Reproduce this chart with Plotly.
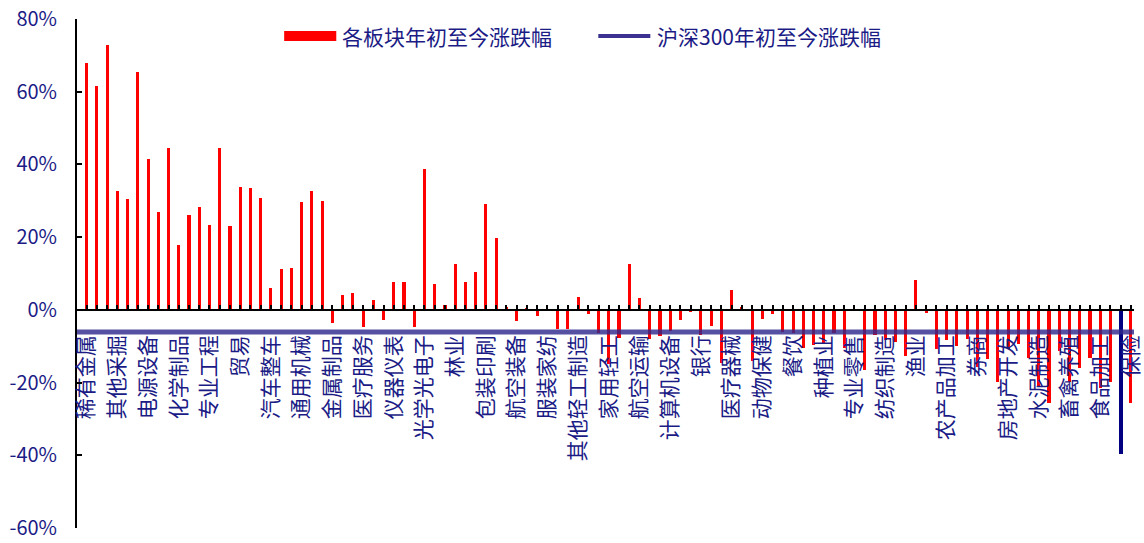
import numpy as np
import plotly.graph_objects as go

# Year-to-date return of each industry sector (%), in display order
sector_returns = [
    67.8, 61.5, 72.9, 32.6, 30.5, 65.4, 41.5, 27.0, 44.5, 17.9,
    26.1, 28.4, 23.3, 44.4, 23.1, 33.8, 33.4, 30.8, 5.9, 11.2,
    11.5, 29.6, 32.7, 30.0, -3.6, 4.0, 4.6, -4.7, 2.8, -2.7,
    7.8, 7.8, -4.8, 38.8, 7.1, 1.2, 12.5, 7.6, 10.4, 29.0,
    19.8, 0.8, -3.0, 0.3, -1.6, -0.3, -5.3, -5.3, 3.5, -1.1,
    -6.3, -15.0, -7.7, 12.5, 3.4, -8.0, -7.3, -5.9, -2.7, -0.7,
    -7.0, -4.4, -14.7, 5.5, 0.9, -14.1, -2.5, -1.1, -6.2, -6.5,
    -10.5, -9.8, -9.1, -6.5, -10.5, -0.3, -16.6, -6.8, -8.2, -8.9,
    -12.7, 8.1, -0.9, -10.7, -8.2, -10.0, -8.0, -15.6, -13.6, -19.8,
    -10.9, -9.5, -13.2, -20.9, -25.7, -11.4, -19.8, -15.9, -13.2, -21.4,
    -19.8, -39.7, -25.5,
]

# Sector names shown on the axis (every third sector is labelled)
tick_labels = [
    "稀有金属", "其他采掘", "电源设备", "化学制品", "专业工程", "贸易",
    "汽车整车", "通用机械", "金属制品", "医疗服务", "仪器仪表", "光学光电子",
    "林业", "包装印刷", "航空装备", "服装家纺", "其他轻工制造", "家用轻工",
    "航空运输", "计算机设备", "银行", "医疗器械", "动物保健", "餐饮",
    "种植业", "专业零售", "纺织制造", "渔业", "农产品加工", "券商",
    "房地产开发", "水泥制造", "畜禽养殖", "食品加工", "保险",
]
label_step = 3

# CSI 300 year-to-date return (%)
hs300_return = -6.1

y_tick_values = [-60, -40, -20, 0, 20, 40, 60, 80]
y_tick_text = ["-60%", "-40%", "-20%", "0%", "20%", "40%", "60%", "80%"]

series_names = ["各板块年初至今涨跌幅", "沪深300年初至今涨跌幅"]

# ---- styling ----
FONT = "Noto Sans CJK SC"
NAVY_TEXT = "#1b1b86"
RED = "#ff0000"
HIGHLIGHT_COLOR = "#000080"
HIGHLIGHT_INDEX = 101
LINE_COLOR = "rgba(48,42,140,0.82)"

n = len(sector_returns)
x = np.arange(n)
bar_colors = [HIGHLIGHT_COLOR if i == HIGHLIGHT_INDEX else RED for i in range(n)]
bar_widths = [0.42 if i == HIGHLIGHT_INDEX else 0.3 for i in range(n)]

tick_text = []
for i in range(n):
    if i % label_step == 0 and i // label_step < len(tick_labels):
        tick_text.append(tick_labels[i // label_step])
    else:
        tick_text.append("")

fig = go.Figure()
fig.add_trace(go.Bar(
    x=x, y=sector_returns, width=bar_widths,
    marker=dict(color=bar_colors, line=dict(width=0)),
    name=series_names[0], showlegend=False,
))

y_min, y_max = -60, 80

fig.update_layout(
    width=1144, height=543,
    margin=dict(l=77, r=10, t=19, b=15, autoexpand=False),
    paper_bgcolor="white", plot_bgcolor="white",
    font=dict(family=FONT, color=NAVY_TEXT),
    showlegend=False,
    bargap=0,
    xaxis=dict(
        range=[-0.94, 102.3],
        anchor="free",
        position=(0 - y_min) / (y_max - y_min),
        tickmode="array", tickvals=list(x), ticktext=tick_text,
        tickangle=-90,
        ticks="inside", ticklen=4, tickwidth=2, tickcolor="black",
        showline=True, linecolor="black", linewidth=2,
        showgrid=False, zeroline=False,
        tickfont=dict(family=FONT, size=21, color=NAVY_TEXT),
        ticklabelstandoff=16,
        ticklabeloverflow="allow",
        automargin=False,
    ),
    yaxis=dict(
        range=[y_min, y_max],
        tickmode="array", tickvals=y_tick_values, ticktext=y_tick_text,
        ticks="inside", ticklen=5, tickwidth=2, tickcolor="black",
        showline=True, linecolor="black", linewidth=2,
        showgrid=False, zeroline=False,
        tickfont=dict(family=FONT, size=20, color=NAVY_TEXT),
        ticklabelstandoff=14,
        ticklabeloverflow="allow",
        automargin=False,
    ),
)

# CSI 300 reference line across the whole plot
fig.add_shape(
    type="line", xref="paper", x0=0, x1=1, yref="y",
    y0=hs300_return, y1=hs300_return,
    line=dict(color=LINE_COLOR, width=5), layer="above",
)

# Legend row at the top (positions in plot-area fractions)
legend_y = 0.9666
fig.add_shape(type="rect", xref="paper", yref="paper",
              x0=0.196, x1=0.2453, y0=0.957, y1=0.9765,
              fillcolor=RED, line=dict(width=0))
fig.add_annotation(xref="paper", yref="paper", x=0.249, y=legend_y,
                   text=series_names[0], showarrow=False,
                   xanchor="left", yanchor="middle",
                   font=dict(family=FONT, size=21, color=NAVY_TEXT))
fig.add_shape(type="line", xref="paper", yref="paper",
              x0=0.4932, x1=0.5424, y0=legend_y, y1=legend_y,
              line=dict(color="#3a3190", width=4))
fig.add_annotation(xref="paper", yref="paper", x=0.5471, y=legend_y,
                   text=series_names[1], showarrow=False,
                   xanchor="left", yanchor="middle",
                   font=dict(family=FONT, size=21, color=NAVY_TEXT))

fig.write_html("out.html")
